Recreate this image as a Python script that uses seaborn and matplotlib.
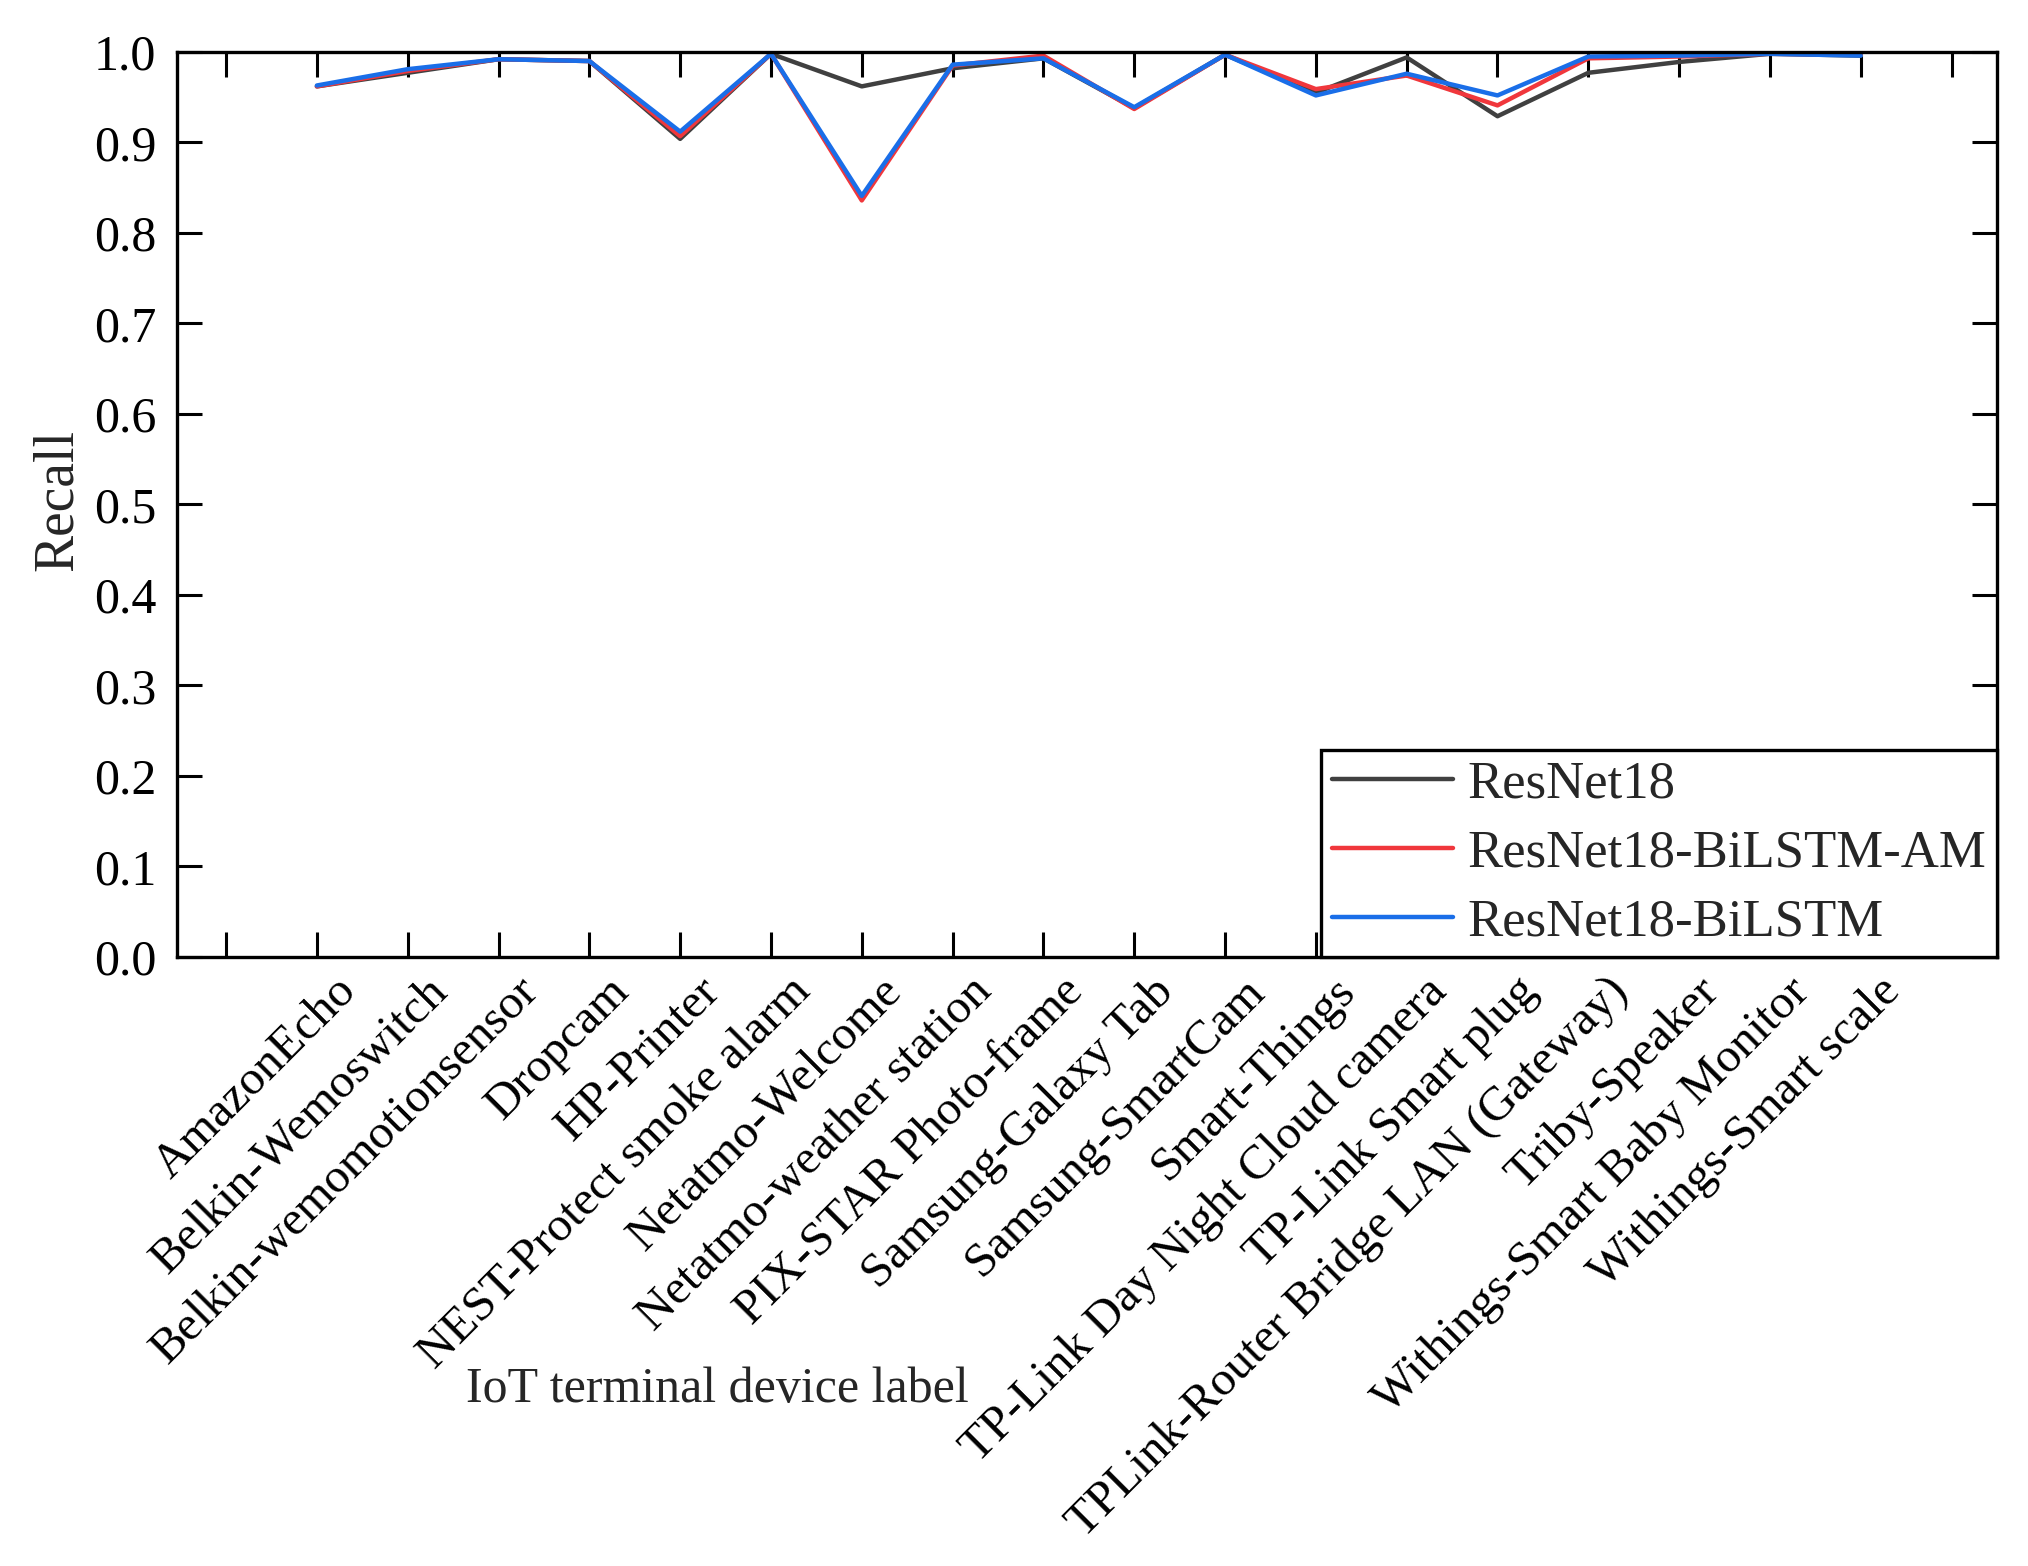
import numpy as np
import pandas as pd
import matplotlib
matplotlib.use("Agg")
import matplotlib.pyplot as plt
import matplotlib.transforms as mtransforms
import seaborn as sns

devices = ["AmazonEcho", "Belkin-Wemoswitch", "Belkin-wemomotionsensor", "Dropcam",
           "HP-Printer", "NEST-Protect smoke alarm", "Netatmo-Welcome",
           "Netatmo-weather station", "PIX-STAR Photo-frame", "Samsung-Galaxy Tab",
           "Samsung-SmartCam", "Smart-Things", "TP-Link Day Night Cloud camera",
           "TP-Link Smart plug", "TPLink-Router Bridge LAN (Gateway)", "Triby-Speaker",
           "Withings-Smart Baby Monitor", "Withings-Smart scale"]

resnet18 = [0.962, 0.977, 0.992, 0.990, 0.904, 0.998, 0.962, 0.982, 0.993, 0.938,
            0.997, 0.955, 0.994, 0.929, 0.977, 0.989, 0.998, 0.996]
resnet18_bilstm_am = [0.962, 0.979, 0.992, 0.990, 0.907, 0.998, 0.836, 0.985, 0.996, 0.937,
                      0.997, 0.959, 0.974, 0.941, 0.993, 0.995, 0.998, 0.997]
resnet18_bilstm = [0.963, 0.981, 0.992, 0.990, 0.912, 0.998, 0.841, 0.986, 0.993, 0.939,
                   0.997, 0.952, 0.976, 0.952, 0.995, 0.996, 0.998, 0.996]

series_names = ["ResNet18", "ResNet18-BiLSTM-AM", "ResNet18-BiLSTM"]
series_vals = [resnet18, resnet18_bilstm_am, resnet18_bilstm]
colors = ["#404040", "#f0373c", "#1a6ee8"]

rows = []
for name, vals in zip(series_names, series_vals):
    for i, v in enumerate(vals):
        rows.append({"x": i + 1, "Recall": v, "model": name})
df = pd.DataFrame(rows)

sns.set_style("ticks")
plt.rcParams["font.family"] = ["Liberation Serif", "DejaVu Serif"]

fig = plt.figure(figsize=(20.28, 15.66), dpi=100)
ax = fig.add_axes([0.0873, 0.3889, 0.8974, 0.5779])

sns.lineplot(data=df, x="x", y="Recall", hue="model", hue_order=series_names,
             palette=colors, linewidth=3.2, ax=ax, legend=True)

ax.set_xlim(-0.54, 19.5)
ax.set_ylim(0, 1.0)
ax.set_yticks(np.round(np.arange(0, 1.01, 0.1), 1))
ax.set_yticklabels([f"{v:.1f}" for v in np.arange(0, 1.01, 0.1)], fontsize=36)
ax.set_xticks(range(0, 20))
ax.set_xticklabels([""] + devices + [""], fontsize=35, rotation=45,
                   ha="right", va="top", rotation_mode="anchor")

ax.tick_params(axis="both", which="major", direction="in", length=18, width=2.2,
               top=True, right=True, colors="black")
ax.tick_params(axis="y", pad=15)
ax.tick_params(axis="x", pad=0)
offset = mtransforms.ScaledTranslation(0.17, -0.12, fig.dpi_scale_trans)
for lbl in ax.get_xticklabels():
    lbl.set_transform(lbl.get_transform() + offset)

for s in ax.spines.values():
    s.set_linewidth(2.4)
    s.set_color("black")
    s.set_visible(True)

ax.set_xlabel("IoT terminal device label", fontsize=36)
ax.xaxis.set_label_coords(0.297, -0.452)
ax.set_ylabel("Recall", fontsize=40)
ax.yaxis.set_label_coords(-0.051, 0.505)

leg = ax.legend(loc="lower right", fontsize=38, frameon=True, fancybox=False,
                framealpha=1, borderaxespad=0, handlelength=2.3, handletextpad=0.27,
                borderpad=0.2, labelspacing=0.4)
leg.get_frame().set_edgecolor("black")
leg.get_frame().set_linewidth(2.4)
for line in leg.get_lines():
    line.set_linewidth(3.2)

fig.savefig("out.png", dpi=100, facecolor="white")
